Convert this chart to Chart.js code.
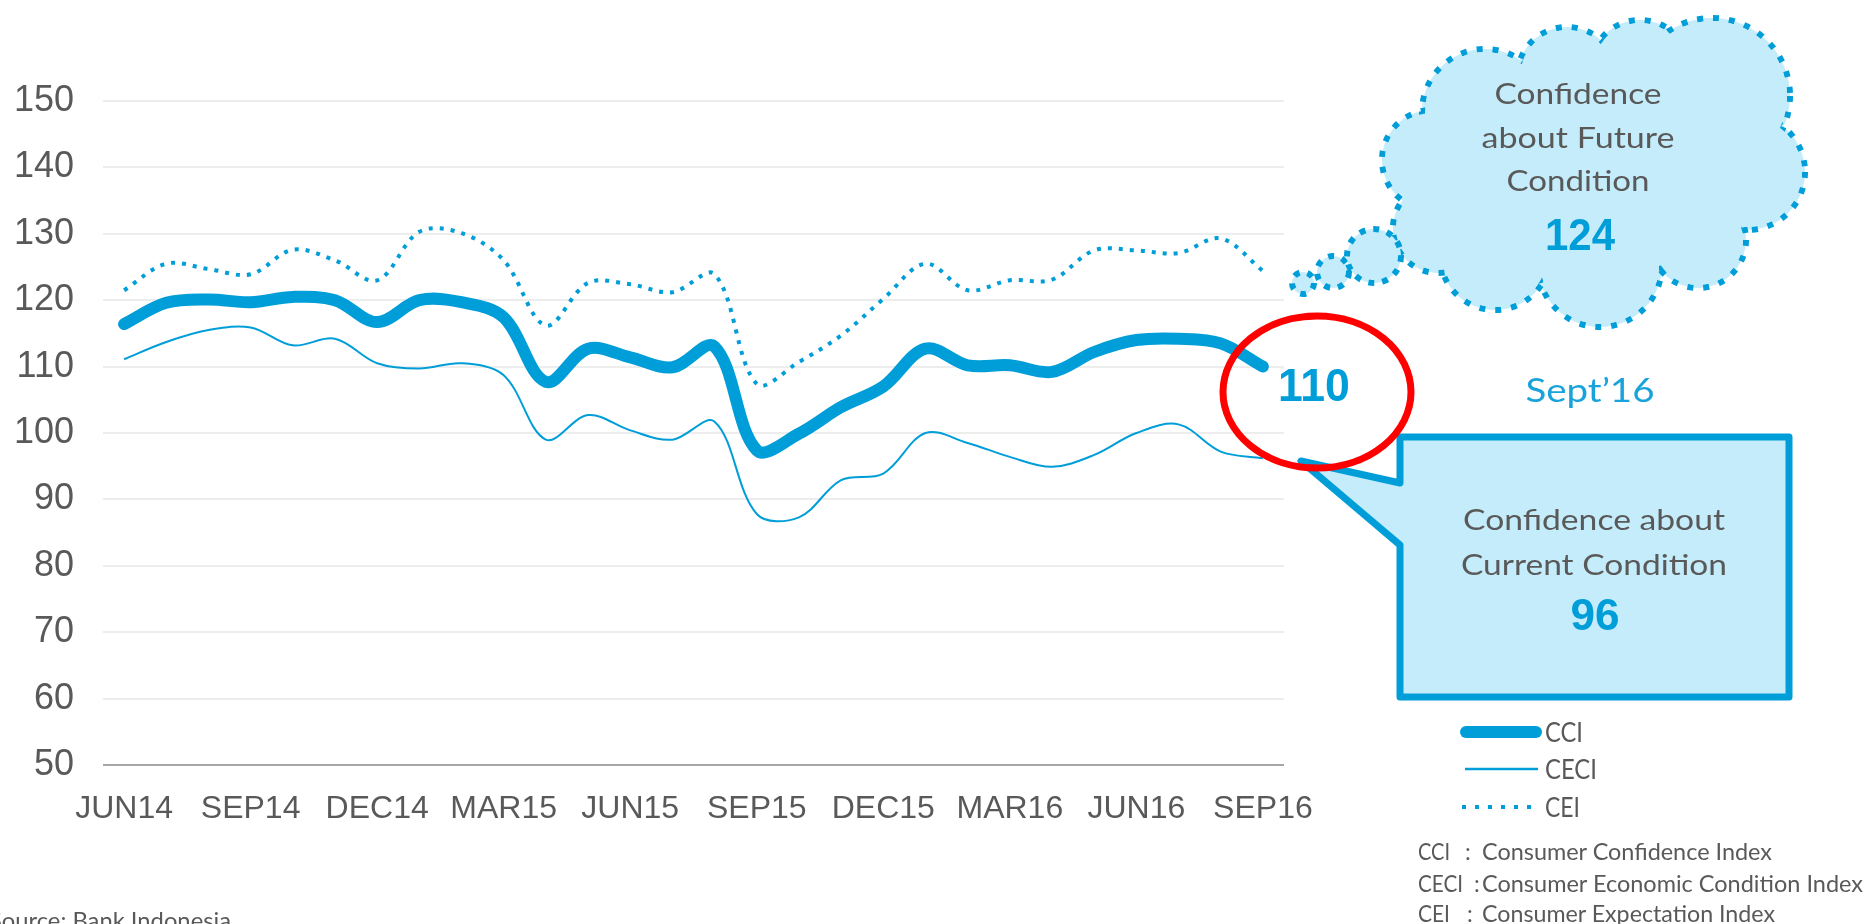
<!DOCTYPE html>
<html>
<head>
<meta charset="utf-8">
<title>Consumer Confidence Index</title>
<script src="https://cdn.jsdelivr.net/npm/chart.js@4.4.1/dist/chart.umd.min.js"></script>
<style>
  html, body { margin: 0; padding: 0; background: #fff; }
  #wrap { position: relative; width: 1868px; height: 924px; overflow: hidden; }
  #chart { position: absolute; left: 0; top: 0; }
  #notes { position: absolute; left: 0; top: 0; pointer-events: none; }
  #notes text { font-family: Lato, 'Open Sans', sans-serif; }
</style>
</head>
<body>
<div id="wrap">
  <canvas id="chart" width="1868" height="924"></canvas>
  <svg id="notes" width="1868" height="924" xmlns="http://www.w3.org/2000/svg"></svg>
</div>
<script>
// monthly survey, Jun 2014 - Sep 2016
const months = ['JUN14', 'JUL14', 'AUG14', 'SEP14', 'OCT14', 'NOV14', 'DEC14',
  'JAN15', 'FEB15', 'MAR15', 'APR15', 'MAY15', 'JUN15', 'JUL15', 'AUG15', 'SEP15',
  'OCT15', 'NOV15', 'DEC15', 'JAN16', 'FEB16', 'MAR16', 'APR16', 'MAY16', 'JUN16',
  'JUL16', 'AUG16', 'SEP16'];
const tickLabels = ['JUN14', 'SEP14', 'DEC14', 'MAR15', 'JUN15', 'SEP15', 'DEC15', 'MAR16', 'JUN16', 'SEP16'];

const cci = [116.4, 119.6, 120.1, 119.7, 120.5, 120.0, 116.7, 120.0, 119.7, 117.4,
  107.7, 112.7, 111.4, 109.9, 113.0, 97.4, 99.9, 103.9, 107.0, 112.7,
  110.2, 110.2, 109.2, 112.2, 114.0, 114.2, 113.5, 110.0];
const ceci = [111.1, 113.7, 115.5, 115.9, 113.2, 114.2, 110.5, 109.7, 110.5, 108.7,
  99.0, 102.7, 100.4, 99.0, 101.7, 87.8, 87.3, 92.9, 93.9, 100.0,
  98.5, 96.4, 94.9, 96.7, 100.0, 101.3, 97.2, 96.2];
const cei = [121.5, 125.5, 124.7, 123.9, 127.6, 126.0, 123.0, 130.3, 130.1, 126.0,
  116.2, 122.6, 122.4, 121.2, 123.9, 107.4, 110.7, 114.7, 120.2, 125.5,
  121.5, 123.0, 123.1, 127.5, 127.5, 127.1, 129.3, 124.4];

const seriesNames = ['CCI', 'CECI', 'CEI'];
const seriesLong = ['Consumer Confidence Index', 'Consumer Economic Condition Index', 'Consumer Expectation Index'];
const yMin = 50, yMax = 150, yStep = 10;

const blue = '#009ED9';
const grey = '#595959';
const paleBlue = '#C5ECFA';

const ctx = document.getElementById('chart').getContext('2d');
const chart = new Chart(ctx, {
  type: 'line',
  data: {
    labels: months,
    datasets: [
      { label: seriesNames[0], data: cci, borderColor: blue, borderWidth: 12,
        borderCapStyle: 'round', borderJoinStyle: 'round', tension: 0.35, pointRadius: 0 },
      { label: seriesNames[1], data: ceci, borderColor: blue, borderWidth: 2,
        tension: 0.35, pointRadius: 0 },
      { label: seriesNames[2], data: cei, borderColor: blue, borderWidth: 4,
        borderDash: [4, 7], tension: 0.35, pointRadius: 0 }
    ]
  },
  options: {
    responsive: false,
    animation: false,
    devicePixelRatio: 1,
    layout: { autoPadding: false, padding: { top: 101, right: 584, bottom: 0, left: 0 } },
    plugins: { legend: { display: false }, tooltip: { enabled: false } },
    scales: {
      x: {
        offset: true,
        grid: { display: false, drawTicks: false },
        border: { display: false },
        ticks: {
          autoSkip: false, maxRotation: 0, minRotation: 0, padding: 25,
          color: grey, font: { family: 'Liberation Sans', size: 32 },
          callback: (v, i) => tickLabels.includes(months[i]) ? months[i] : ''
        },
        afterFit: s => { s.height = 159; }
      },
      y: {
        min: yMin, max: yMax,
        grid: {
          drawTicks: false, lineWidth: 2,
          color: c => c.tick.value === yMin ? '#A6A6A6' : '#EDEDED'
        },
        border: { display: false },
        ticks: { stepSize: yStep, padding: 29, color: grey, font: { family: 'Liberation Sans', size: 36 } },
        afterFit: s => { s.width = 103; }
      }
    }
  }
});

// --- annotations (cloud, callout, legend) drawn as SVG on top ---
const NS = 'http://www.w3.org/2000/svg';
const svg = document.getElementById('notes');

function el(tag, attrs, parent) {
  const e = document.createElementNS(NS, tag);
  for (const k in attrs) e.setAttribute(k, attrs[k]);
  (parent || svg).appendChild(e);
  return e;
}
function text(str, x, y, size, color, opts) {
  opts = opts || {};
  const t = el('text', { x: x, y: y, 'font-size': size, fill: color,
    'text-anchor': opts.anchor || 'start', 'font-weight': opts.bold ? 'bold' : 'normal' });
  if (opts.family) t.setAttribute('style', 'font-family:' + opts.family);
  if (opts.width) {
    t.setAttribute('textLength', opts.width);
    t.setAttribute('lengthAdjust', 'spacingAndGlyphs');
  }
  t.textContent = str;
  return t;
}

// thought cloud about future condition
const lobes = [
  [1432, 160, 50], [1485, 112, 63], [1567, 77, 50], [1640, 70, 50], [1712, 96, 78],
  [1747, 172, 58], [1698, 240, 48], [1600, 265, 62], [1495, 255, 55], [1438, 228, 45]
];
const defs = el('defs', {});
const mask = el('mask', { id: 'cloudMask', maskUnits: 'userSpaceOnUse', x: 0, y: 0, width: 1868, height: 924 }, defs);
el('rect', { x: 0, y: 0, width: 1868, height: 924, fill: 'white' }, mask);
lobes.forEach(l => el('circle', { cx: l[0], cy: l[1], r: l[2] - 3, fill: 'black' }, mask));
el('ellipse', { cx: 1590, cy: 170, rx: 157, ry: 107, fill: 'black' }, mask);

const fillG = el('g', { fill: paleBlue });
lobes.forEach(l => el('circle', { cx: l[0], cy: l[1], r: l[2] }, fillG));
el('ellipse', { cx: 1590, cy: 170, rx: 160, ry: 110 }, fillG);
const strokeG = el('g', { fill: 'none', stroke: blue, 'stroke-width': 6, 'stroke-dasharray': '6 10', mask: 'url(#cloudMask)' });
lobes.forEach(l => el('circle', { cx: l[0], cy: l[1], r: l[2] }, strokeG));

// trail bubbles
[[1303, 283, 11], [1333, 272, 16], [1374, 256, 27]].forEach(b => {
  el('circle', { cx: b[0], cy: b[1], r: b[2], fill: paleBlue, stroke: blue,
    'stroke-width': 6, 'stroke-dasharray': '6 8' });
});

const last = months.length - 1;
text('Confidence', 1578, 104, 29, grey, { anchor: 'middle', width: 167 });
text('about Future', 1578, 148, 29, grey, { anchor: 'middle', width: 193 });
text('Condition', 1578, 191, 29, grey, { anchor: 'middle', width: 143 });
text(String(Math.round(cei[last])), 1580, 250, 44, blue,
  { anchor: 'middle', bold: true, family: 'Liberation Sans', width: 70 });

// callout box about current condition
el('path', { d: 'M1400,437 H1789 V697 H1400 V545 L1301,461 L1400,483 Z',
  fill: paleBlue, stroke: blue, 'stroke-width': 7, 'stroke-linejoin': 'round' });
text('Confidence about', 1594, 530, 29, grey, { anchor: 'middle', width: 262 });
text('Current Condition', 1594, 575, 29, grey, { anchor: 'middle', width: 266 });
text(String(Math.round(ceci[last])), 1595, 630, 44, blue,
  { anchor: 'middle', bold: true, family: 'Liberation Sans', width: 49 });

text('Sept\u201916', 1590, 402, 33, '#1AA3DB', { anchor: 'middle', width: 129 });

// latest CCI value next to the last point, ringed in red
const lastPt = chart.getDatasetMeta(0).data[last];
text(String(Math.round(cci[last])), lastPt.x + 15, lastPt.y + 34, 46, blue,
  { bold: true, family: 'Liberation Sans', width: 72 });
el('ellipse', { cx: 1317, cy: 392, rx: 94, ry: 76, fill: 'none', stroke: '#FF0000', 'stroke-width': 7 });

// legend
const legendY = [732, 769, 807];
chart.data.datasets.forEach((ds, i) => {
  const y = legendY[i];
  if (i === 0) {
    el('line', { x1: 1466, y1: y, x2: 1536, y2: y, stroke: ds.borderColor, 'stroke-width': 12, 'stroke-linecap': 'round' });
  } else if (i === 1) {
    el('line', { x1: 1465, y1: y, x2: 1538, y2: y, stroke: ds.borderColor, 'stroke-width': 2.5 });
  } else {
    el('line', { x1: 1462, y1: y, x2: 1531, y2: y, stroke: ds.borderColor, 'stroke-width': 4, 'stroke-dasharray': '4 9' });
  }
  text(ds.label, 1545, y + 10, 26, grey, { width: [38, 52, 35][i] });
});

// abbreviations
const defBase = [860, 892, 922];
const colonX = [1465, 1474, 1467];
const longW = [290, 381, 293];
seriesNames.forEach((n, i) => {
  text(n, 1418, defBase[i], 23, grey, { width: [32, 45, 32][i] });
  text(':', colonX[i], defBase[i], 23, grey);
  text(seriesLong[i], 1482, defBase[i], 23, grey, { width: longW[i] });
});

text('Source: Bank Indonesia', -11, 929, 23, grey, { width: 242 });
</script>
</body>
</html>
